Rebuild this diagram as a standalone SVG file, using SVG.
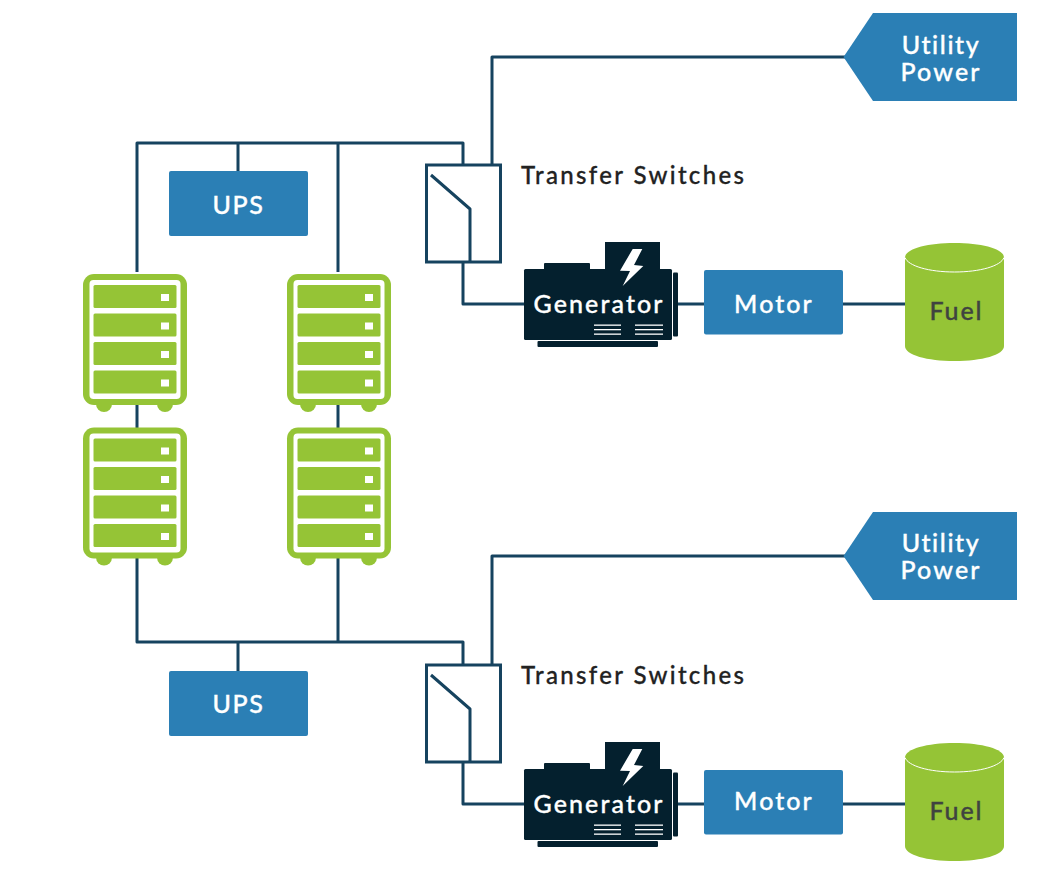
<svg xmlns="http://www.w3.org/2000/svg" width="1047" height="882" viewBox="0 0 1047 882">
<style>
.wire{fill:none;stroke:#16435f;stroke-width:3;stroke-linejoin:round}
.blue{fill:#2b7fb5}
.green{fill:#95c436}
.dark{fill:#04202e}
.t{font-family:"Lato","Liberation Sans",sans-serif;font-weight:500;text-anchor:middle}
.w{fill:#fff;stroke:#fff;stroke-width:.35px;font-size:25px;letter-spacing:2.1px}
.n{letter-spacing:1.6px}
.k{fill:#222;stroke:#222;stroke-width:.3px;font-size:24px;letter-spacing:2.35px;text-anchor:start}
.f{fill:#3f4340;stroke:#3f4340;stroke-width:.35px;font-size:25px;letter-spacing:1.9px}
</style>
<defs>
<g id="server">
<circle class="green" cx="21" cy="130" r="8"/><circle class="green" cx="82" cy="130" r="8"/>
<rect class="green" x="0" y="0" width="104" height="131" rx="11"/>
<rect x="6.500" y="6" width="91" height="119" rx="4" fill="#fff"/>
<g class="green"><rect x="10.500" y="11" width="83" height="23" rx="1.500"/><rect x="10.500" y="39.500" width="83" height="23" rx="1.500"/><rect x="10.500" y="68" width="83" height="23" rx="1.500"/><rect x="10.500" y="96.500" width="83" height="23" rx="1.500"/></g>
<g fill="#fff"><rect x="78" y="20" width="8" height="7"/><rect x="78" y="48.500" width="8" height="7"/><rect x="78" y="77" width="8" height="7"/><rect x="78" y="105.500" width="8" height="7"/></g>
</g>
<g id="gen">
<rect class="dark" x="605" y="242" width="55" height="28"/>
<rect class="dark" x="544" y="263" width="46" height="7" rx="1"/>
<rect class="dark" x="524" y="269" width="148" height="71" rx="1.500"/>
<rect class="dark" x="673" y="272.500" width="5" height="64" rx="1"/>
<rect class="dark" x="537.500" y="341" width="120.500" height="6" rx="1"/>
<polygon fill="#fff" points="632.700,249 642.300,249 634,265 643.300,266 622.700,286 630,271 620,270.700"/>
<g fill="#fff"><rect x="594" y="324.500" width="27" height="1.300"/><rect x="594" y="329" width="27" height="1.300"/><rect x="594" y="333.500" width="27" height="1.300"/><rect x="635" y="324.500" width="28" height="1.300"/><rect x="635" y="329" width="28" height="1.300"/><rect x="635" y="333.500" width="28" height="1.300"/></g>
</g>
<g id="fuelshape">
<path class="green" d="M905 257.500C905 249 927 243 954.500 243S1004 249 1004 257.500V346C1004 355 982 361 954.500 361S905 355 905 346Z"/>
<path d="M905 257.500C908 266 929 272 954.500 272S1001 266 1004 257.500" fill="none" stroke="#fff" stroke-width="1"/>
</g>
</defs>

<g id="connectors">
<path class="wire" d="M137 272V143H463V165M238 143V171M338 143V272"/>
<path class="wire" d="M492 165V57H845"/>
<path class="wire" d="M463 262V304H524M678 304H704M843 304H905"/>
<path class="wire" d="M137 405V428M338 405V428"/>
<path class="wire" d="M137 558V642H463V665M238 642V671M338 558V642"/>
<path class="wire" d="M492 665V556H845"/>
<path class="wire" d="M463 762V804H524M678 804H704M843 804H905"/>
</g>

<g id="utility-1"><polygon class="blue" points="843.500,57 873,13 1017,13 1017,101 873,101"/><text class="t w n" x="941" y="54">Utility</text><text class="t w" x="941" y="81">Power</text></g>
<g id="utility-2"><polygon class="blue" points="843.500,556 873,512 1017,512 1017,600 873,600"/><text class="t w n" x="941" y="552">Utility</text><text class="t w" x="941" y="579">Power</text></g>

<g id="ups-1"><rect class="blue" x="169" y="171" width="139" height="65" rx="2"/><text class="t w n" x="238.500" y="213.500">UPS</text></g>
<g id="ups-2"><rect class="blue" x="169" y="671" width="139" height="65" rx="2"/><text class="t w n" x="238.500" y="713">UPS</text></g>

<g id="server-1"><use href="#server" x="83" y="274"/></g>
<g id="server-2"><use href="#server" x="287" y="274"/></g>
<g id="server-3"><use href="#server" x="83" y="427.500"/></g>
<g id="server-4"><use href="#server" x="287" y="427.500"/></g>

<g id="switch-1"><rect x="426.500" y="165" width="74" height="97" fill="#fff" stroke="#16435f" stroke-width="3"/><path class="wire" d="M431 175L470 209V261"/><text class="t k" x="521" y="184">Transfer Switches</text></g>
<g id="switch-2"><rect x="426.500" y="665" width="74" height="97" fill="#fff" stroke="#16435f" stroke-width="3"/><path class="wire" d="M431 675L470 709V761"/><text class="t k" x="521" y="684">Transfer Switches</text></g>

<g id="generator-1"><use href="#gen"/><text class="t w" x="599" y="313">Generator</text></g>
<g id="generator-2"><use href="#gen" y="500"/><text class="t w" x="599" y="813">Generator</text></g>

<g id="motor-1"><rect class="blue" x="704" y="270" width="139" height="64.500" rx="2"/><text class="t w" x="774" y="313">Motor</text></g>
<g id="motor-2"><rect class="blue" x="704" y="770" width="139" height="64.500" rx="2"/><text class="t w" x="774" y="810">Motor</text></g>

<g id="fuel-1"><use href="#fuelshape"/><text class="t f" x="956.500" y="320">Fuel</text></g>
<g id="fuel-2"><use href="#fuelshape" y="500"/><text class="t f" x="956.500" y="820">Fuel</text></g>
</svg>
